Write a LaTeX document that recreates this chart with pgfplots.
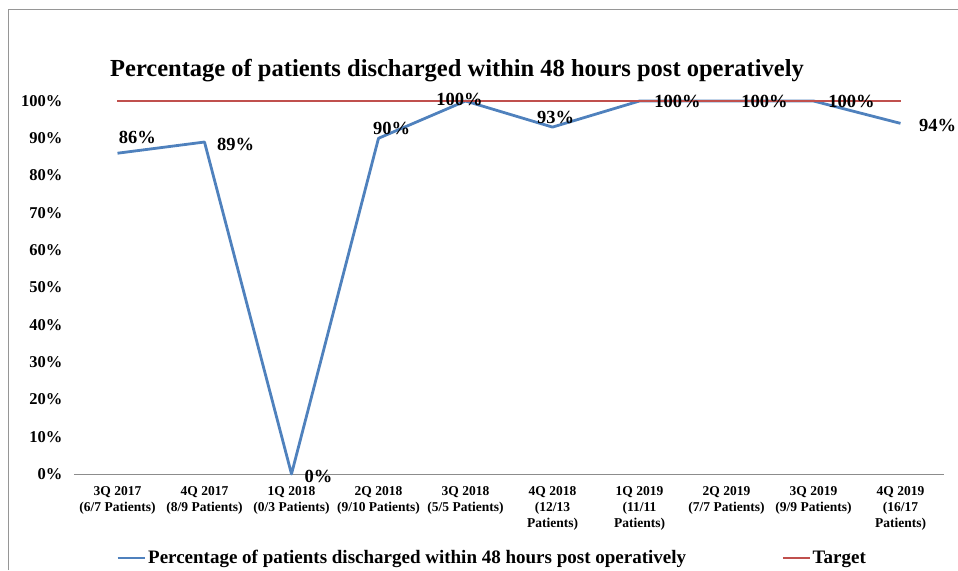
\documentclass[border=0pt]{standalone}
\usepackage{pgfplots}
\pgfplotsset{compat=1.18}
\usepackage{pgfplotstable}
\usepackage{fontspec}
\setmainfont{Liberation Serif}
\definecolor{serblue}{RGB}{79,129,189}
\definecolor{serred}{RGB}{192,80,77}
\definecolor{framegray}{RGB}{150,150,150}
\pgfplotstableread{
x y dx dy
0 86 20 16
1 89 31 -2
2 0 27 -2
3 90 13 10
4 100 -6 2
5 93 3 10
6 100 38 0
7 100 38 0
8 100 38 0
9 94 37 -2
}\maindata
\pgfplotstableread{
x y
0 100
1 100
2 100
3 100
4 100
5 100
6 100
7 100
8 100
9 100
}\targetdata
\begin{document}
\begin{tikzpicture}
\path[use as bounding box] (-74pt,-96pt) rectangle (884pt,474pt);
\draw[framegray, line width=0.8pt] (-66pt,-96pt) -- (-66pt,465pt) -- (884pt,465pt);
\begin{axis}[
  scale only axis,
  width=870pt, height=373pt,
  xmin=-0.5, xmax=9.5, ymin=0, ymax=100,
  clip=false,
  /pgf/number format/assume math mode=true,
  axis x line*=bottom, axis y line*=left,
  axis line style={-},
  x axis line style={draw=gray!90, line width=0.8pt},
  y axis line style={draw=none},
  tick style={draw=none},
  ytick={0,10,...,100},
  yticklabel={\pgfmathprintnumber{\tick}\%},
  yticklabel style={font=\fontsize{16.5}{18}\selectfont\bfseries, xshift=-8pt},
  xtick={0,...,9},
  xticklabels={{3Q 2017\\(6/7 Patients)},{4Q 2017\\(8/9 Patients)},{1Q 2018\\(0/3 Patients)},{2Q 2018\\(9/10 Patients)},{3Q 2018\\(5/5 Patients)},{4Q 2018\\(12/13\\Patients)},{1Q 2019\\(11/11\\Patients)},{2Q 2019\\(7/7 Patients)},{3Q 2019\\(9/9 Patients)},{4Q 2019\\(16/17\\Patients)}},
  xticklabel style={align=center, font=\fontsize{13.5}{16}\selectfont\bfseries, anchor=north, yshift=-9pt},
  legend style={draw=none, fill=none, at={(axis description cs:0.045,-0.225)}, anchor=west,
    font=\fontsize{19}{21}\selectfont\bfseries, legend columns=2,
    /tikz/every even column/.append style={column sep=94pt}},
  legend image code/.code={\draw[#1] (0pt,0pt) -- (27pt,0pt);},
]
\addplot[serblue, line width=2.8pt, line join=round, mark=none,
  point meta=y,
  visualization depends on={\thisrow{dx} \as \dx},
  visualization depends on={\thisrow{dy} \as \dy},
  nodes near coords={\pgfmathprintnumber{\pgfplotspointmeta}\%},
  nodes near coords style={anchor=center, xshift=\dx pt, yshift=\dy pt, text=black,
    font=\fontsize{18.5}{20}\selectfont\bfseries}]
  table[x=x, y=y] {\maindata};
\addlegendentry{Percentage of patients discharged within 48 hours post operatively}
\addplot[serred, line width=1.6pt, mark=none] table[x=x, y=y] {\targetdata};
\addlegendentry{Target}
\end{axis}
\node[font=\fontsize{24.5}{27}\selectfont\bfseries] at (383pt,403pt) {Percentage of patients discharged within 48 hours post operatively};
\end{tikzpicture}
\end{document}
